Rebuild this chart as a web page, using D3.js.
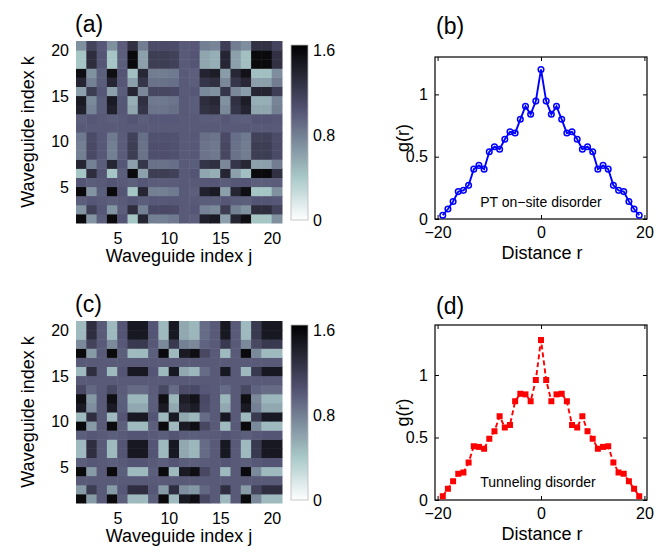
<!DOCTYPE html>
<html><head><meta charset="utf-8">
<script src="https://cdn.jsdelivr.net/npm/d3@7/dist/d3.min.js"></script>
<style>
html,body{margin:0;padding:0;background:#fff;}
svg{display:block;}
text{font-family:"Liberation Sans",Arial,Helvetica,sans-serif;fill:#000;}
</style></head><body>
<svg id="fig" width="670" height="555"></svg>
<script>
// ---------------- data ----------------
const waveguideIndex = [1,2,3,4,5,6,7,8,9,10,11,12,13,14,15,16,17,18,19,20];
const heatTickValues = [5,10,15,20];
const colorbarTicks = [0,0.8,1.6];
const distanceR = [-19,-18,-17,-16,-15,-14,-13,-12,-11,-10,-9,-8,-7,-6,-5,-4,-3,-2,-1,0,1,2,3,4,5,6,7,8,9,10,11,12,13,14,15,16,17,18,19];
const distanceTicks = [-20,0,20];
const gTicks = [0,0.5,1];
const gPTOnSite = [0.03,0.08,0.14,0.22,0.23,0.27,0.40,0.43,0.40,0.54,0.58,0.56,0.64,0.70,0.69,0.80,0.905,0.84,0.946,1.20,0.946,0.84,0.905,0.80,0.69,0.70,0.64,0.56,0.58,0.54,0.40,0.43,0.40,0.27,0.23,0.22,0.14,0.08,0.03];
const gTunneling = [0.03,0.09,0.15,0.21,0.22,0.30,0.43,0.425,0.41,0.49,0.55,0.67,0.58,0.60,0.79,0.85,0.845,0.79,0.96,1.28,0.96,0.79,0.845,0.85,0.79,0.60,0.58,0.67,0.55,0.49,0.41,0.425,0.43,0.30,0.22,0.21,0.15,0.09,0.03];
// rows: k = 1..20 (bottom to top), columns: j = 1..20
const corrPTOnSite = [
[1.58,0.68,0.97,1.58,1.03,0.42,1.38,0.80,0.80,0.83,1.00,0.97,1.41,1.46,0.62,1.38,1.55,0.42,0.42,0.71],
[0.68,1.18,1.02,0.68,0.98,1.32,0.79,1.11,1.11,1.10,1.00,1.02,0.78,0.74,1.21,0.79,0.70,1.32,1.32,1.16],
[0.97,1.02,1.00,0.97,1.00,1.03,0.98,1.01,1.01,1.01,1.00,1.00,0.98,0.98,1.02,0.98,0.97,1.03,1.03,1.01],
[1.58,0.68,0.97,1.58,1.03,0.42,1.38,0.80,0.80,0.83,1.00,0.97,1.41,1.46,0.62,1.38,1.55,0.42,0.42,0.71],
[1.03,0.98,1.00,1.03,1.00,0.97,1.02,0.99,0.99,0.99,1.00,1.00,1.02,1.02,0.98,1.02,1.03,0.97,0.97,0.99],
[0.42,1.32,1.03,0.42,0.97,1.58,0.62,1.20,1.20,1.17,1.00,1.03,0.59,0.54,1.38,0.62,0.45,1.58,1.58,1.29],
[1.38,0.79,0.98,1.38,1.02,0.62,1.25,0.87,0.87,0.89,1.00,0.98,1.26,1.30,0.75,1.25,1.36,0.62,0.62,0.81],
[0.80,1.11,1.01,0.80,0.99,1.20,0.87,1.07,1.07,1.06,1.00,1.01,0.86,0.84,1.13,0.87,0.81,1.20,1.20,1.10],
[0.80,1.11,1.01,0.80,0.99,1.20,0.87,1.07,1.07,1.06,1.00,1.01,0.86,0.84,1.13,0.87,0.81,1.20,1.20,1.10],
[0.83,1.10,1.01,0.83,0.99,1.17,0.89,1.06,1.06,1.05,1.00,1.01,0.88,0.86,1.11,0.89,0.83,1.17,1.17,1.09],
[1.00,1.00,1.00,1.00,1.00,1.00,1.00,1.00,1.00,1.00,1.00,1.00,1.00,1.00,1.00,1.00,1.00,1.00,1.00,1.00],
[0.97,1.02,1.00,0.97,1.00,1.03,0.98,1.01,1.01,1.01,1.00,1.00,0.98,0.98,1.02,0.98,0.97,1.03,1.03,1.01],
[1.41,0.78,0.98,1.41,1.02,0.59,1.26,0.86,0.86,0.88,1.00,0.98,1.28,1.32,0.74,1.26,1.39,0.59,0.59,0.80],
[1.46,0.74,0.98,1.46,1.02,0.54,1.30,0.84,0.84,0.86,1.00,0.98,1.32,1.37,0.70,1.30,1.44,0.54,0.54,0.77],
[0.62,1.21,1.02,0.62,0.98,1.38,0.75,1.13,1.13,1.11,1.00,1.02,0.74,0.70,1.25,0.75,0.64,1.38,1.38,1.19],
[1.38,0.79,0.98,1.38,1.02,0.62,1.25,0.87,0.87,0.89,1.00,0.98,1.26,1.30,0.75,1.25,1.36,0.62,0.62,0.81],
[1.55,0.70,0.97,1.55,1.03,0.45,1.36,0.81,0.81,0.83,1.00,0.97,1.39,1.44,0.64,1.36,1.52,0.45,0.45,0.72],
[0.42,1.32,1.03,0.42,0.97,1.58,0.62,1.20,1.20,1.17,1.00,1.03,0.59,0.54,1.38,0.62,0.45,1.58,1.58,1.29],
[0.42,1.32,1.03,0.42,0.97,1.58,0.62,1.20,1.20,1.17,1.00,1.03,0.59,0.54,1.38,0.62,0.45,1.58,1.58,1.29],
[0.71,1.16,1.01,0.71,0.99,1.29,0.81,1.10,1.10,1.09,1.00,1.01,0.80,0.77,1.19,0.81,0.72,1.29,1.29,1.15]
];
const corrTunneling = [
[1.58,0.65,1.00,1.58,0.97,0.48,0.48,0.97,1.58,0.48,1.46,1.55,1.12,1.00,0.48,1.00,1.58,0.74,0.48,0.48],
[0.65,1.21,1.00,0.65,1.02,1.31,1.31,1.02,0.65,1.31,0.72,0.67,0.93,1.00,1.31,1.00,0.65,1.16,1.31,1.31],
[1.00,1.00,1.00,1.00,1.00,1.00,1.00,1.00,1.00,1.00,1.00,1.00,1.00,1.00,1.00,1.00,1.00,1.00,1.00,1.00],
[1.58,0.65,1.00,1.58,0.97,0.48,0.48,0.97,1.58,0.48,1.46,1.55,1.12,1.00,0.48,1.00,1.58,0.74,0.48,0.48],
[0.97,1.02,1.00,0.97,1.00,1.03,1.03,1.00,0.97,1.03,0.98,0.97,0.99,1.00,1.03,1.00,0.97,1.01,1.03,1.03],
[0.48,1.31,1.00,0.48,1.03,1.47,1.47,1.03,0.48,1.47,0.58,0.50,0.90,1.00,1.47,1.00,0.48,1.23,1.47,1.47],
[0.48,1.31,1.00,0.48,1.03,1.47,1.47,1.03,0.48,1.47,0.58,0.50,0.90,1.00,1.47,1.00,0.48,1.23,1.47,1.47],
[0.97,1.02,1.00,0.97,1.00,1.03,1.03,1.00,0.97,1.03,0.98,0.97,0.99,1.00,1.03,1.00,0.97,1.01,1.03,1.03],
[1.58,0.65,1.00,1.58,0.97,0.48,0.48,0.97,1.58,0.48,1.46,1.55,1.12,1.00,0.48,1.00,1.58,0.74,0.48,0.48],
[0.48,1.31,1.00,0.48,1.03,1.47,1.47,1.03,0.48,1.47,0.58,0.50,0.90,1.00,1.47,1.00,0.48,1.23,1.47,1.47],
[1.46,0.72,1.00,1.46,0.98,0.58,0.58,0.98,1.46,0.58,1.37,1.44,1.09,1.00,0.58,1.00,1.46,0.79,0.58,0.58],
[1.55,0.67,1.00,1.55,0.97,0.50,0.50,0.97,1.55,0.50,1.44,1.52,1.11,1.00,0.50,1.00,1.55,0.75,0.50,0.50],
[1.12,0.93,1.00,1.12,0.99,0.90,0.90,0.99,1.12,0.90,1.09,1.11,1.02,1.00,0.90,1.00,1.12,0.95,0.90,0.90],
[1.00,1.00,1.00,1.00,1.00,1.00,1.00,1.00,1.00,1.00,1.00,1.00,1.00,1.00,1.00,1.00,1.00,1.00,1.00,1.00],
[0.48,1.31,1.00,0.48,1.03,1.47,1.47,1.03,0.48,1.47,0.58,0.50,0.90,1.00,1.47,1.00,0.48,1.23,1.47,1.47],
[1.00,1.00,1.00,1.00,1.00,1.00,1.00,1.00,1.00,1.00,1.00,1.00,1.00,1.00,1.00,1.00,1.00,1.00,1.00,1.00],
[1.58,0.65,1.00,1.58,0.97,0.48,0.48,0.97,1.58,0.48,1.46,1.55,1.12,1.00,0.48,1.00,1.58,0.74,0.48,0.48],
[0.74,1.16,1.00,0.74,1.01,1.23,1.23,1.01,0.74,1.23,0.79,0.75,0.95,1.00,1.23,1.00,0.74,1.12,1.23,1.23],
[0.48,1.31,1.00,0.48,1.03,1.47,1.47,1.03,0.48,1.47,0.58,0.50,0.90,1.00,1.47,1.00,0.48,1.23,1.47,1.47],
[0.48,1.31,1.00,0.48,1.03,1.47,1.47,1.03,0.48,1.47,0.58,0.50,0.90,1.00,1.47,1.00,0.48,1.23,1.47,1.47]
];

// ---------------- drawing ----------------
const svg = d3.select("#fig");
const FONT = '"Liberation Sans",Arial,Helvetica,sans-serif';
const cmax = 1.65;
// reversed MATLAB "bone" colormap
const color = d3.scaleLinear()
  .domain([0, 0.25*cmax, 0.625*cmax, cmax])
  .range(["#ffffff", "#a7c7c7", "#545474", "#000000"]).clamp(true);

const defs = svg.append("defs");
const grad = defs.append("linearGradient").attr("id","cbgrad")
  .attr("x1",0).attr("y1",1).attr("x2",0).attr("y2",0);
d3.range(0, 41).forEach(i => {
  grad.append("stop").attr("offset", i/40).attr("stop-color", color(i/40*cmax));
});

const fmt = d3.format("~g");

function styleAxis(g, size) {
  g.attr("font-family", FONT).attr("font-size", size);
  g.select(".domain").remove();
}

function heatmap(matrix, top, panel) {
  const left = 76, right = 282, bottom = top + 182;
  const x = d3.scaleBand().domain(waveguideIndex).range([left, right]);
  const y = d3.scaleBand().domain(waveguideIndex).range([bottom, top]);
  const cells = matrix.flatMap((row, ki) => row.map((v, ji) => ({k: waveguideIndex[ki], j: waveguideIndex[ji], v})));
  svg.append("g").selectAll("rect").data(cells).join("rect")
    .attr("x", d => x(d.j)).attr("y", d => y(d.k))
    .attr("width", x.bandwidth() + 0.5).attr("height", y.bandwidth() + 0.5)
    .attr("fill", d => color(d.v));

  // tick labels
  const xl = d3.scaleLinear().domain([0.5, 20.5]).range([left - 5, right - 5]);
  const gx = svg.append("g").attr("transform", `translate(0,${bottom})`)
    .call(d3.axisBottom(xl).tickValues(heatTickValues).tickSize(0).tickPadding(10));
  styleAxis(gx, 16);
  const yl = d3.scaleLinear().domain([0.5, 20.5]).range([bottom + 5, top + 5]);
  const gy = svg.append("g").attr("transform", `translate(${left - 4},0)`)
    .call(d3.axisLeft(yl).tickValues(heatTickValues).tickSize(0).tickPadding(3));
  styleAxis(gy, 16);

  // colorbar
  const cbL = 291, cbW = 17, cbTop = top + 4, cbBot = top + 179;
  const cb = d3.scaleLinear().domain([0, cmax]).range([cbBot, cbTop]);
  svg.append("rect").attr("x", cbL).attr("y", cbTop).attr("width", cbW).attr("height", cbBot - cbTop)
    .attr("fill", "url(#cbgrad)").attr("stroke", "#b8b8b8").attr("stroke-width", 0.8);
  const gc = svg.append("g").attr("transform", `translate(${cbL + cbW},0)`)
    .call(d3.axisRight(cb).tickValues(colorbarTicks).tickSize(0).tickPadding(5).tickFormat(fmt));
  styleAxis(gc, 16);

  // titles
  svg.append("text").attr("x", 179).attr("y", bottom + 39).attr("text-anchor", "middle")
    .attr("font-size", 18).text("Waveguide index j");
  svg.append("text").attr("transform", `translate(34,${top + 91}) rotate(-90)`).attr("text-anchor", "middle")
    .attr("font-size", 18).text("Waveguide index k");
  svg.append("text").attr("x", 75).attr("y", top - 9).attr("font-size", 23).text(panel);
}

function gplot(values, top, bottom, yMax, opts) {
  const left = 435, right = 647;
  const x = d3.scaleLinear().domain([-20.5, 20.5]).range([left, right]);
  const y = d3.scaleLinear().domain([0, yMax]).range([bottom, top]);
  const pts = distanceR.map((r, i) => ({r, g: values[i]}));

  const gb = svg.append("g").attr("transform", `translate(0,${bottom})`)
    .call(d3.axisBottom(x).tickValues(distanceTicks).tickSizeInner(-4).tickSizeOuter(0).tickPadding(8).tickFormat(fmt));
  styleAxis(gb, 16);
  const gt = svg.append("g").attr("transform", `translate(0,${top})`)
    .call(d3.axisTop(x).tickValues(distanceTicks).tickSizeInner(-4).tickSizeOuter(0).tickFormat(""));
  styleAxis(gt, 16);
  const gl = svg.append("g").attr("transform", `translate(${left},0)`)
    .call(d3.axisLeft(y).tickValues(gTicks).tickSizeInner(-4).tickSizeOuter(0).tickPadding(7).tickFormat(fmt));
  styleAxis(gl, 16);
  const gr = svg.append("g").attr("transform", `translate(${right},0)`)
    .call(d3.axisRight(y).tickValues(gTicks).tickSizeInner(-4).tickSizeOuter(0).tickFormat(""));
  styleAxis(gr, 16);
  svg.selectAll(".tick line").attr("stroke", "#000");

  svg.append("rect").attr("x", left).attr("y", top).attr("width", right - left).attr("height", bottom - top)
    .attr("fill", "none").attr("stroke", "#000").attr("stroke-width", 1.2);

  const line = d3.line().x(d => x(d.r)).y(d => y(d.g));
  svg.append("path").datum(pts).attr("d", line).attr("fill", "none")
    .attr("stroke", opts.color).attr("stroke-width", 1.9)
    .attr("stroke-dasharray", opts.dash || null);
  if (opts.marker === "circle") {
    svg.append("g").selectAll("circle").data(pts).join("circle")
      .attr("cx", d => x(d.r)).attr("cy", d => y(d.g)).attr("r", 2.8)
      .attr("fill", "none").attr("stroke", opts.color).attr("stroke-width", 1.5);
  } else {
    const s = 6;
    svg.append("g").selectAll("rect").data(pts).join("rect")
      .attr("x", d => x(d.r) - s/2).attr("y", d => y(d.g) - s/2).attr("width", s).attr("height", s)
      .attr("fill", opts.color);
  }

  svg.append("text").attr("x", 542).attr("y", bottom + 40).attr("text-anchor", "middle")
    .attr("font-size", 18).text("Distance r");
  svg.append("text").attr("transform", `translate(409,${(top + bottom) / 2}) rotate(-90)`).attr("text-anchor", "middle")
    .attr("font-size", 18).text("g(r)");
  svg.append("text").attr("x", opts.noteX).attr("y", opts.noteY).attr("text-anchor", "middle")
    .attr("font-size", 14).text(opts.note);
  svg.append("text").attr("x", 436).attr("y", opts.panelY).attr("font-size", 23).text(opts.panel);
}

heatmap(corrPTOnSite, 41, "(a)");
heatmap(corrTunneling, 321, "(c)");
gplot(gPTOnSite, 57, 219, 1.3, {color: "#0000ff", marker: "circle", note: "PT on\u2212site disorder", noteX: 541, noteY: 207, panel: "(b)", panelY: 34});
gplot(gTunneling, 325, 500, 1.4, {color: "#ff0000", marker: "square", dash: "5,3", note: "Tunneling disorder", noteX: 538, noteY: 487, panel: "(d)", panelY: 314});
</script>
</body></html>
